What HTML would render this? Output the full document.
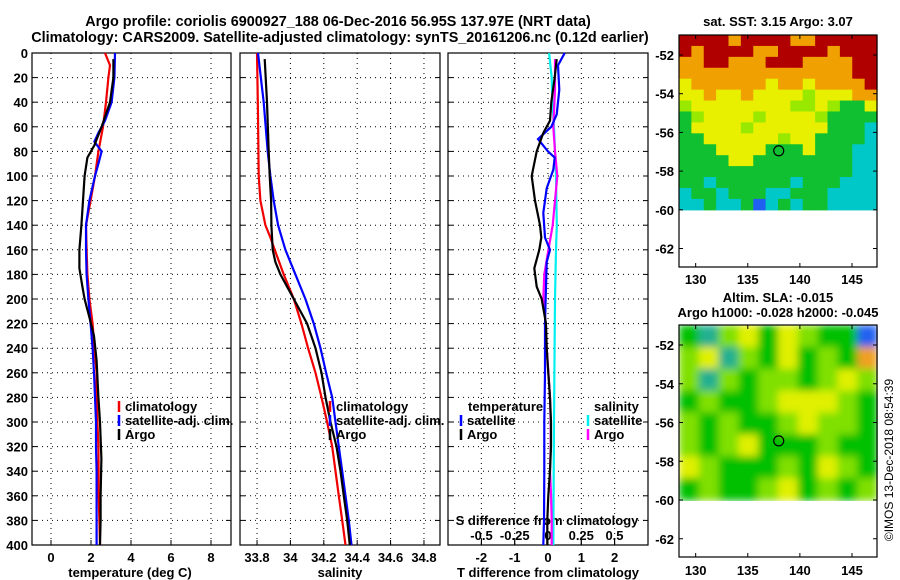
<!DOCTYPE html>
<html><head><meta charset="utf-8"><style>
body{margin:0;background:#fff;}
svg{display:block;font-family:"Liberation Sans",Arial,sans-serif;font-weight:bold;}
</style></head><body>
<svg id="fig" width="900" height="580" viewBox="0 0 900 580" xmlns="http://www.w3.org/2000/svg">
<text x="338" y="26" font-size="14.4" text-anchor="middle">Argo profile: coriolis 6900927_188 06-Dec-2016 56.95S 137.97E (NRT data)</text>
<text x="340" y="42" font-size="14.4" text-anchor="middle">Climatology: CARS2009. Satellite-adjusted climatology: synTS_20161206.nc (0.12d earlier)</text>
<text x="778" y="26" font-size="13" text-anchor="middle">sat. SST: 3.15 Argo: 3.07</text>
<text x="778" y="302" font-size="13" text-anchor="middle">Altim. SLA: -0.015</text>
<text x="778" y="317" font-size="13" text-anchor="middle">Argo h1000: -0.028 h2000: -0.045</text>
<text transform="translate(893,460) rotate(-90)" font-size="12" font-weight="normal" text-anchor="middle">©IMOS 13-Dec-2018 08:54:39</text>
<g id="g"></g>
</svg>
<script>
// ---- data ----
const depthTicks=[0,20,40,60,80,100,120,140,160,180,200,220,240,260,280,300,320,340,360,380,400];
const tTicks=[0,2,4,6,8];
const sTicks=[33.8,34,34.2,34.4,34.6,34.8];
const sTickLabels=["33.8","34","34.2","34.4","34.6","34.8"];
const dTicks=[-2,-1,0,1,2];
const dsTicks=[-0.5,-0.25,0,0.25,0.5];
const dsTickLabels=["-0.5","-0.25","0","0.25","0.5"];
const climTDepth=[0,10,20,40,60,80,100,120,140,160,180,200,220,240,260,280,300,320,340,360,380,400];
const climT=[2.7,2.95,2.87,2.75,2.6,2.37,2.2,1.98,1.75,1.78,1.82,1.92,2.08,2.17,2.28,2.28,2.32,2.37,2.38,2.38,2.42,2.45];
const satTDepth=[0,20,40,55,65,72,80,90,100,120,140,160,180,200,220,240,260,280,300,320,340,360,380,400];
const satT=[3.2,3.17,3.03,2.7,2.37,2.17,2.53,2.37,2.2,1.92,1.75,1.75,1.78,1.87,1.98,2.08,2.15,2.2,2.25,2.25,2.28,2.28,2.28,2.28];
const argoTDepth=[5,20,40,60,75,85,100,120,140,160,175,190,200,215,230,250,280,300,330,360,380,400];
const argoT=[3.12,3.12,2.95,2.53,2.17,1.82,1.68,1.6,1.52,1.42,1.42,1.57,1.68,1.92,2.15,2.28,2.37,2.45,2.52,2.48,2.48,2.45];
const climSDepth=[0,50,100,120,140,150,160,180,200,220,240,260,280,300,320,340,360,380,400];
const climS=[33.8,33.806,33.81,33.82,33.85,33.88,33.906,33.96,34.02,34.066,34.106,34.15,34.186,34.22,34.25,34.27,34.29,34.31,34.33];
const satSDepth=[0,40,80,100,120,140,160,180,200,220,240,260,280,300,320,340,360,380,400];
const satS=[33.806,33.84,33.864,33.88,33.9,33.926,33.97,34.03,34.09,34.14,34.18,34.214,34.25,34.27,34.29,34.31,34.33,34.35,34.366];
const argoSDepth=[5,40,80,100,120,140,160,170,180,200,220,240,260,280,300,320,340,360,380,400];
const argoS=[33.846,33.86,33.87,33.876,33.884,33.886,33.894,33.91,33.94,34.02,34.1,34.15,34.186,34.21,34.24,34.276,34.3,34.32,34.34,34.356];
const dTArgoDepth=[5,20,40,55,65,80,100,120,140,150,160,175,190,200,220,240,260,280,300,320,340,360,380,400];
const dTArgo=[0.26,0.2,0.1,0.06,-0.14,-0.34,-0.49,-0.39,-0.24,-0.2,-0.26,-0.41,-0.34,-0.19,-0.06,-0.04,0.01,0.06,0.09,0.09,0.06,0.01,-0.02,-0.02];
const dTSatDepth=[0,10,30,50,60,70,80,85,95,110,130,150,160,170,190,220,260,300,340,380,400];
const dTSat=[0.5,0.3,0.34,0.26,0.1,-0.3,0.0,0.2,0.16,-0.04,-0.14,-0.09,0.06,-0.04,-0.06,-0.09,-0.09,-0.11,-0.11,-0.12,-0.14];
const dSArgoDepth=[5,30,60,80,100,120,140,160,180,200,220,240,260,280,300,320,340,360,380,400];
const dSArgo=[0.053,0.053,0.04,0.053,0.07,0.053,0.035,0.003,-0.028,-0.035,-0.018,-0.01,0.003,0.015,0.02,0.02,0.015,0.023,0.028,0.028];
const dSSatDepth=[0,20,40,60,80,100,140,160,200,300,400];
const dSSat=[0.008,0.028,0.033,0.045,0.053,0.06,0.066,0.06,0.053,0.045,0.04];
const sstRows=[
"RRRRORRRROORRRRR",
"RORRRROORRRRORRR",
"OORROOORRROOOORR",
"OOOOOOOOOOOOOORR",
"YOOOOOOYOOYOOOOR",
"YYOYYOYYYYLYYYOO",
"LYYYYYYYYLLYLGGY",
"GLYYYYLYYYYLGGGG",
"GYYYYLYYYYYYGGGC",
"GGYYYYYYLYYGGGGC",
"GGGYYYYGGGYGGGCC",
"GGGGYYGGGGGGGGCC",
"GGGGGGGGGGGGGGCC",
"GGCGGGGGGCGGGCCC",
"CGGCGGGCCGGGCCCC",
"CCGCCGBCGCGGCCCC"];
const slaRows=["GCLYGYLGGB","LYCLGYGLGO","LCLGLLGLYL","GLGGLYYYLG","LGLGGLYLLG","LGLYGGGLGG","YLGGGLGYLG","GLGGLYGLGL"];
const latTicks=[-52,-54,-56,-58,-60,-62];
const lonTicks=[130,135,140,145];
const argoLon=137.97, argoLat=-56.95;

// ---- drawing ----
const NS="http://www.w3.org/2000/svg";
const G=document.getElementById('g');
function mk(tag,attrs,parent){const e=document.createElementNS(NS,tag);for(const k in attrs)e.setAttribute(k,attrs[k]);(parent||G).appendChild(e);return e;}
const Y0=53,Y1=545;
const yD=d=>Y0+(d/400)*(Y1-Y0);
function panel(name,x0,x1,vmin,vmax){return {name,x0,x1,sx:v=>x0+(v-vmin)/(vmax-vmin)*(x1-x0)};}
const P1=panel('temperature',32,231,-0.95,9);
const P2=panel('salinity',240,440,33.698,34.896);
const P3=panel('t-diff',448,648,-3,3);
const sxS=v=>548+v*133;
function frame(p,ticks,labels,showY){
  for(const d of depthTicks){
    const y=yD(d);
    if(d>0&&d<400){const l=mk('line',{x1:p.x0,x2:p.x1,y1:y,y2:y,stroke:'#000','stroke-width':1,'stroke-dasharray':'1 4'});
    }
    mk('line',{x1:p.x0,x2:p.x0+5,y1:y,y2:y,stroke:'#000'});mk('line',{x1:p.x1,x2:p.x1-5,y1:y,y2:y,stroke:'#000'});
    if(showY){const t=mk('text',{x:p.x0-4,y:y+5,'font-size':13,'text-anchor':'end'});t.textContent=d;
    }
  }
  ticks.forEach((v,i)=>{const x=p.sx(v);
    const l=mk('line',{x1:x,x2:x,y1:Y0,y2:Y1,stroke:'#000','stroke-dasharray':'1 4'});
    
    mk('line',{x1:x,x2:x,y1:Y1,y2:Y1-5,stroke:'#000'});
    const t=mk('text',{x:x,y:562,'font-size':13,'text-anchor':'middle'});t.textContent=labels[i];
    });
  const r=mk('rect',{x:p.x0,y:Y0,width:p.x1-p.x0,height:Y1-Y0,fill:'none',stroke:'#000','stroke-width':1.2});
  
}
function line(xs,ds,sx,color,name){
  const pts=xs.map((v,i)=>sx(v).toFixed(1)+','+yD(ds[i]).toFixed(1)).join(' ');
  const l=mk('polyline',{points:pts,fill:'none',stroke:color,'stroke-width':2.2});
  
}
function label(txt,x,y,size,anchor,name){const t=mk('text',{x:x,y:y,'font-size':size,'text-anchor':anchor||'start'});t.textContent=txt;
  return t;}
function legend(x,y,color,txt,name){
  const m=mk('line',{x1:x,x2:x,y1:y-10,y2:y+1,stroke:color,'stroke-width':2.5});
  
  label(txt,x+6,y,13,'start',name);
}
frame(P1,tTicks,tTicks.map(String),true);
frame(P2,sTicks,sTickLabels,false);
frame(P3,dTicks,dTicks.map(String),false);
dsTicks.forEach((v,i)=>{const x=sxS(v);mk('line',{x1:x,x2:x,y1:Y1,y2:Y1-6,stroke:'#000'});
  label(dsTickLabels[i],x,540,13,'middle','s-diff-tick-label');});
label('S difference from climatology',547,525,13,'middle','s-diff-axis-title');

line(climT,climTDepth,P1.sx,'#f00000','temp-climatology-line');
line(satT,satTDepth,P1.sx,'#0000ff','temp-satellite-line');
line(argoT,argoTDepth,P1.sx,'#000','temp-argo-line');
line(climS,climSDepth,P2.sx,'#f00000','sal-climatology-line');
line(satS,satSDepth,P2.sx,'#0000ff','sal-satellite-line');
line(argoS,argoSDepth,P2.sx,'#000','sal-argo-line');
line(dSSat,dSSatDepth,sxS,'#00f0f0','sdiff-satellite-line');
line(dSArgo,dSArgoDepth,sxS,'#ff00ff','sdiff-argo-line');
line(dTSat,dTSatDepth,P3.sx,'#0000ff','tdiff-satellite-line');
line(dTArgo,dTArgoDepth,P3.sx,'#000','tdiff-argo-line');

legend(119,411,'#f00000','climatology','legend-climatology');
legend(119,425,'#0000ff','satellite-adj. clim.','legend-satellite-adj');
legend(119,439,'#000','Argo','legend-argo');
legend(330,411,'#f00000','climatology','legend-sal-climatology');
legend(330,425,'#0000ff','satellite-adj. clim.','legend-sal-satellite-adj');
legend(330,439,'#000','Argo','legend-sal-argo');
label('temperature',468,411,13,'start','legend-temperature-header');
legend(461,425,'#0000ff','satellite','legend-tdiff-satellite');
legend(461,439,'#000','Argo','legend-tdiff-argo');
label('salinity',594,411,13,'start','legend-salinity-header');
legend(588,425,'#00f0f0','satellite','legend-sdiff-satellite');
legend(588,439,'#ff00ff','Argo','legend-sdiff-argo');

label('temperature (deg C)',130,577,13,'middle','temperature-axis-title');
label('salinity',340,577,13,'middle','salinity-axis-title');
label('T difference from climatology',548,577,13,'middle','tdiff-axis-title');

// ---- maps ----
const COL={R:'#b00000',O:'#f0a000',Y:'#e8f000',L:'#98e800',G:'#10c030',C:'#00c8c8',B:'#2060f0'};
const COL2={R:'#b00000',O:'#f0a020',Y:'#e0f000',L:'#80e000',G:'#00c000',C:'#20b090',B:'#2060f0'};
function map(name,top,bottom,rows,cols,blur,latPx,labelY){
  const x0=679,x1=877;const lonX=v=>x0+(v-128.4)/(147.4-128.4)*(x1-x0);
  const latY=v=>latPx(v);
  const dataBottom=latY(-60);
  const grp=mk('g',blur?{filter:'url(#bl)'}:{});
  
  const cw=(x1-x0)/rows[0].length,ch=(dataBottom-top)/rows.length;
  rows.forEach((r,i)=>{for(let j=0;j<r.length;j++){mk('rect',{x:x0+j*cw,y:top+i*ch,width:cw+0.6,height:ch+0.6,fill:cols[r[j]]},grp);}});
  const fr=mk('rect',{x:x0,y:top,width:x1-x0,height:bottom-top,fill:'none',stroke:'#000','stroke-width':1.2});
  
  latTicks.forEach(v=>{const y=latY(v);mk('line',{x1:x0,x2:x0+4,y1:y,y2:y,stroke:'#000'});mk('line',{x1:x1,x2:x1-4,y1:y,y2:y,stroke:'#000'});
    label(String(v),674,y+5,13,'end',name+'-lat-label');});
  lonTicks.forEach(v=>{const x=lonX(v);mk('line',{x1:x,x2:x,y1:top,y2:top+4,stroke:'#000'});mk('line',{x1:x,x2:x,y1:bottom,y2:bottom-4,stroke:'#000'});
    label(String(v),x,labelY,13,'middle',name+'-lon-label');});
  const c=mk('circle',{cx:lonX(argoLon),cy:latY(argoLat),r:5,fill:'none',stroke:'#000','stroke-width':1.2});
  
}
const defs=mk('defs',{});const f=mk('filter',{id:'bl',x:'0',y:'0',width:'1',height:'1'},defs);
mk('feGaussianBlur',{stdDeviation:4},f);
map('sst-map',35,267,sstRows,COL,false,v=>55+(-52-v)/2*38.7,284);
map('sla-map',325,557,slaRows,COL2,true,v=>345+(-52-v)/2*38.75,575);
</script>
</body></html>
